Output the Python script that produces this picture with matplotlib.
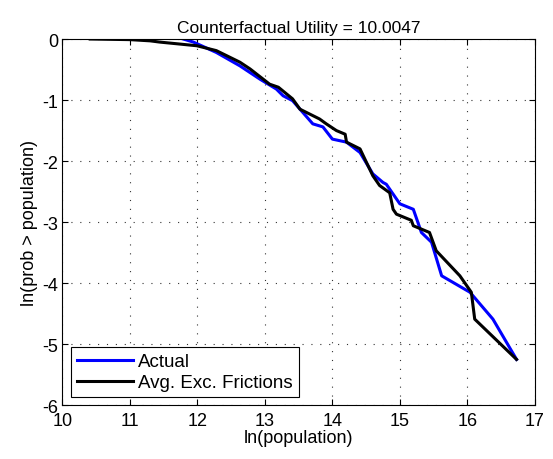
import matplotlib

matplotlib.use("Agg")
import matplotlib.pyplot as plt

plt.rcParams["font.family"] = ["Liberation Sans", "DejaVu Sans"]
plt.rcParams["axes.unicode_minus"] = False

# log-rank curves: ln(population) vs ln(prob > population)
actual_x = [11.79, 11.94, 12.28, 12.63, 12.93, 13.17, 13.27, 13.41, 13.56, 13.71, 13.86,
            14.0, 14.21, 14.41, 14.6, 14.75, 14.8, 15.0, 15.2, 15.32, 15.47, 15.62,
            16.04, 16.38, 16.73]
actual_y = [0.0, -0.05, -0.22, -0.44, -0.66, -0.82, -0.93, -1.01, -1.2, -1.39, -1.44,
            -1.64, -1.69, -1.86, -2.21, -2.35, -2.38, -2.7, -2.79, -3.17, -3.33, -3.88,
            -4.15, -4.59, -5.25]

frictions_x = [10.41, 11.0, 11.3, 11.44, 11.99, 12.28, 12.63, 12.78, 13.07, 13.2, 13.41,
               13.52, 13.81, 13.91, 14.06, 14.19, 14.21, 14.41, 14.6, 14.7, 14.85,
               14.9, 14.95, 15.17, 15.2, 15.44, 15.54, 15.89, 16.06, 16.11, 16.73]
frictions_y = [0.0, -0.01, -0.03, -0.05, -0.11, -0.19, -0.38, -0.49, -0.74, -0.79, -0.98,
               -1.15, -1.31, -1.39, -1.5, -1.56, -1.69, -1.8, -2.24, -2.4, -2.52,
               -2.79, -2.87, -2.97, -3.06, -3.17, -3.47, -3.88, -4.15, -4.59, -5.25]

x_ticks = [10, 11, 12, 13, 14, 15, 16, 17]
y_ticks = [-6, -5, -4, -3, -2, -1, 0]

fig = plt.figure(figsize=(5.53, 4.6), dpi=100)
ax = fig.add_axes([0.113, 0.117, 0.854, 0.796])

ax.plot(actual_x, actual_y, color="#0000ff", linewidth=2.2, label="Actual")
ax.plot(frictions_x, frictions_y, color="black", linewidth=2.2, label="Avg. Exc. Frictions")

ax.set_xlim(10, 17)
ax.set_ylim(-6, 0)
ax.set_xticks(x_ticks)
ax.set_yticks(y_ticks)
ax.tick_params(direction="in", top=True, right=True, labelsize=13, length=4)
ax.tick_params(axis="x", pad=5)
ax.tick_params(axis="y", pad=3)
ax.grid(True, linestyle=(0, (1, 7)), color="#333333", linewidth=0.8)

ax.set_title("Counterfactual Utility = 10.0047", fontsize=12.5, pad=5)
ax.set_xlabel("ln(population)", fontsize=13, labelpad=0)
ax.set_ylabel("ln(prob > population)", fontsize=13, labelpad=3)

leg = ax.legend(loc="lower left", fontsize=13.5, fancybox=False, framealpha=1,
                edgecolor="black", borderaxespad=0.45, handlelength=3.0,
                handletextpad=0.3, labelspacing=0.2, borderpad=0.3)
leg.get_frame().set_linewidth(0.8)

fig.savefig("out.png", dpi=100)
